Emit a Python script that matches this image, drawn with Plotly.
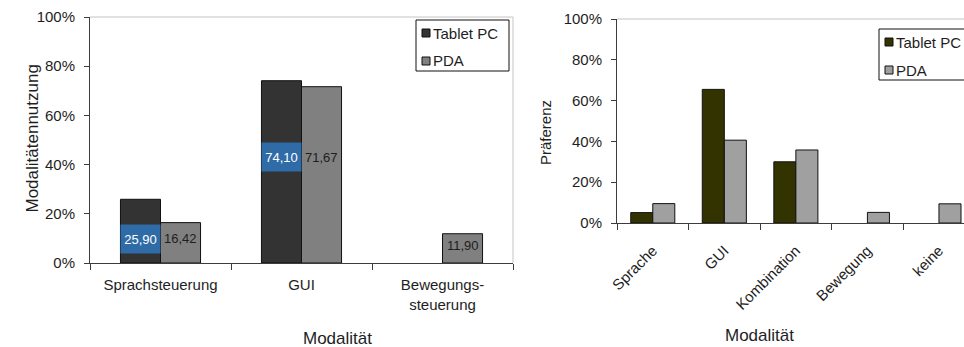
import plotly.graph_objects as go

# Modalitätennutzung nach Gerät (Prozent)
use_cats = ["Sprachsteuerung", "GUI", "Bewegungs-<br>steuerung"]
use_tablet = [25.90, 74.10, None]
use_pda = [16.42, 71.67, 11.90]

# Präferenz nach Gerät (Prozent)
pref_cats = ["Sprache", "GUI", "Kombination", "Bewegung", "keine"]
pref_tablet = [5.1, 65.5, 30.0, 0, 0]
pref_pda = [9.5, 40.6, 35.8, 5.2, 9.4]

pct_ticks = [0, 20, 40, 60, 80, 100]
pct_labels = [f"{v}%" for v in pct_ticks]
series_names = ["Tablet PC", "PDA"]

W, H = 964, 347
FONT = "Liberation Sans, Arial, sans-serif"
INK = "#1e1e1e"
AXIS = "#3c3c3c"
FRAME = "#c4c4c4"
EDGE = "#111111"

left_colors = ["#333333", "#808080"]
right_colors = ["#333300", "#a0a0a0"]
label_bg = "#2f6ba6"


def px(x):
    return x / W


def py(y):
    return 1 - y / H


def de(v):
    return f"{v:.2f}".replace(".", ",")


def edges(vals):
    # no outline for empty bars
    return [1 if v else 0 for v in vals]


w_left = 0.284
w_right = 0.308

fig = go.Figure()

fig.add_trace(go.Bar(x=use_cats, y=use_tablet, name=series_names[0], width=w_left, offset=-w_left,
                     marker=dict(color=left_colors[0], line=dict(color=EDGE, width=edges(use_tablet))),
                     xaxis="x", yaxis="y", showlegend=False))
fig.add_trace(go.Bar(x=use_cats, y=use_pda, name=series_names[1], width=w_left, offset=0,
                     marker=dict(color=left_colors[1], line=dict(color=EDGE, width=edges(use_pda))),
                     xaxis="x", yaxis="y", showlegend=False))
fig.add_trace(go.Bar(x=pref_cats, y=pref_tablet, name=series_names[0], width=w_right, offset=-w_right,
                     marker=dict(color=right_colors[0], line=dict(color=EDGE, width=edges(pref_tablet))),
                     xaxis="x2", yaxis="y2", showlegend=False))
fig.add_trace(go.Bar(x=pref_cats, y=pref_pda, name=series_names[1], width=w_right, offset=0,
                     marker=dict(color=right_colors[1], line=dict(color=EDGE, width=edges(pref_pda))),
                     xaxis="x2", yaxis="y2", showlegend=False))

annotations = []
shapes = []

# value labels inside the bars of the left chart
for i in range(len(use_cats)):
    present = [v for v in (use_tablet[i], use_pda[i]) if v]
    ylab = 0.6 * min(present)
    if use_tablet[i]:
        annotations.append(dict(x=i - w_left / 2, y=ylab, xref="x", yref="y", text=de(use_tablet[i]),
                                showarrow=False, font=dict(family=FONT, size=13, color="white"),
                                bgcolor=label_bg, width=37, height=26))
    if use_pda[i]:
        annotations.append(dict(x=i + w_left / 2, y=ylab, xref="x", yref="y", text=de(use_pda[i]),
                                showarrow=False, font=dict(family=FONT, size=13, color=INK)))

# axis titles
annotations += [
    dict(x=px(301), y=py(338), xref="paper", yref="paper", text="Modalität", showarrow=False,
         yanchor="middle", font=dict(family=FONT, size=17, color=INK)),
    dict(x=px(21), y=py(139), xref="paper", yref="paper", text="Modalitätennutzung", showarrow=False,
         yanchor="middle", textangle=-90, font=dict(family=FONT, size=17, color=INK)),
    dict(x=px(796), y=py(335), xref="paper", yref="paper", text="Modalität", showarrow=False,
         yanchor="middle", font=dict(family=FONT, size=17, color=INK)),
    dict(x=px(545), y=py(133), xref="paper", yref="paper", text="Präferenz", showarrow=False,
         yanchor="middle", textangle=-90, font=dict(family=FONT, size=15, color=INK)),
]

# plot frames (top / right edges)
shapes += [
    dict(type="line", xref="paper", yref="paper", x0=px(90), x1=px(513), y0=py(17), y1=py(17),
         line=dict(color=FRAME, width=1)),
    dict(type="line", xref="paper", yref="paper", x0=px(513), x1=px(513), y0=py(17), y1=py(263),
         line=dict(color=FRAME, width=1)),
    dict(type="line", xref="paper", yref="paper", x0=px(617), x1=1.0, y0=py(19), y1=py(19),
         line=dict(color=FRAME, width=1)),
]


def add_legend(x0, x1, y0, y1, colors, sq_x, rows, text_x):
    shapes.append(dict(type="rect", xref="paper", yref="paper", x0=px(x0), x1=px(x1), y0=py(y0), y1=py(y1),
                       line=dict(color=EDGE, width=1), fillcolor="white", layer="above"))
    for name, col, cy in zip(series_names, colors, rows):
        shapes.append(dict(type="rect", xref="paper", yref="paper", x0=px(sq_x), x1=px(sq_x + 8),
                           y0=py(cy - 4), y1=py(cy + 4), line=dict(color=EDGE, width=1),
                           fillcolor=col, layer="above"))
        annotations.append(dict(x=px(text_x), y=py(cy), xref="paper", yref="paper", text=name,
                                xanchor="left", yanchor="middle", showarrow=False,
                                font=dict(family=FONT, size=15, color=INK)))


add_legend(416, 509, 20, 71, left_colors, 422, [33, 61], 431)
add_legend(879, 1000, 29, 80, right_colors, 885, [42, 70], 894)

axis_font = dict(family=FONT, size=15, color=INK)

fig.update_layout(
    width=W, height=H,
    margin=dict(l=0, r=0, t=0, b=0, autoexpand=False),
    paper_bgcolor="white", plot_bgcolor="white",
    barmode="overlay",
    showlegend=False,
    annotations=annotations,
    shapes=shapes,
    xaxis=dict(domain=[px(90), px(513)], anchor="y", type="category", range=[-0.5, 2.5],
               tickson="boundaries", ticks="outside", ticklen=6, tickcolor=AXIS,
               showline=True, linecolor=AXIS, linewidth=1, showgrid=False,
               tickfont=axis_font, ticklabelstandoff=8),
    yaxis=dict(domain=[py(263), py(17)], anchor="x", range=[0, 100], tickmode="array",
               tickvals=pct_ticks, ticktext=pct_labels, ticks="outside", ticklen=5, tickcolor=AXIS,
               showline=True, linecolor=AXIS, linewidth=1, showgrid=False, zeroline=False,
               tickfont=axis_font, ticklabelstandoff=6),
    xaxis2=dict(domain=[px(617), 1.0], anchor="y2", type="category", range=[-0.5, 4.35],
                tickson="boundaries", ticks="outside", ticklen=6, tickcolor=AXIS, tickangle=-45,
                showline=True, linecolor=AXIS, linewidth=1, showgrid=False,
                tickfont=axis_font, ticklabelstandoff=12),
    yaxis2=dict(domain=[py(223), py(19)], anchor="x2", range=[0, 100], tickmode="array",
                tickvals=pct_ticks, ticktext=pct_labels, ticks="outside", ticklen=5, tickcolor=AXIS,
                showline=True, linecolor=AXIS, linewidth=1, showgrid=False, zeroline=False,
                tickfont=axis_font, ticklabelstandoff=6),
)

fig.write_html("out.html")
